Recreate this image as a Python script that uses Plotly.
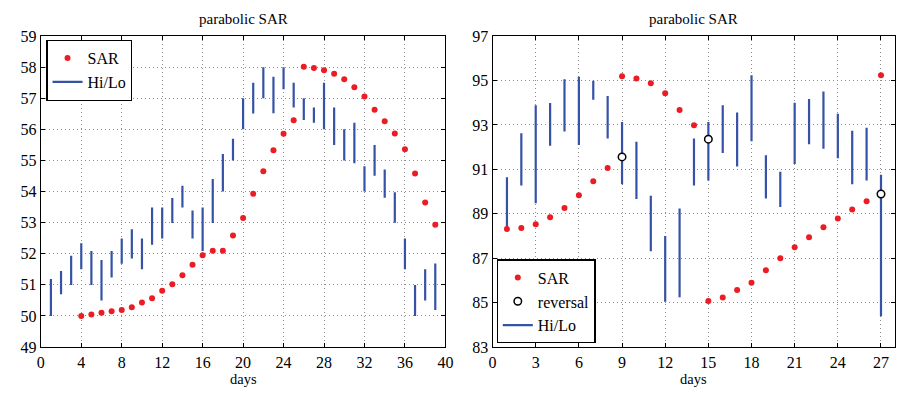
import plotly.graph_objects as go

# ---------------- data ----------------
left_days = list(range(1, 40))
left_hi = [51.19, 51.45, 51.94, 52.34, 52.09, 51.80, 52.09, 52.49, 52.79, 52.49,
           53.49, 53.49, 53.79, 54.19, 53.39, 53.49, 54.40, 55.21, 55.70, 57.00,
           57.50, 58.00, 57.69, 58.00, 57.50, 57.00, 56.70, 57.50, 56.70, 56.00,
           56.21, 54.81, 55.50, 54.71, 53.98, 52.49, 51.00, 51.50, 51.69]
left_lo = [50.00, 50.70, 51.00, 51.50, 51.00, 50.50, 51.24, 51.68, 51.85, 51.50,
           52.29, 52.49, 52.99, 53.49, 52.49, 52.09, 52.99, 54.00, 55.00, 56.00,
           56.51, 57.00, 56.52, 57.29, 56.70, 56.30, 56.21, 56.00, 55.50, 55.00,
           54.91, 54.00, 54.51, 53.80, 53.00, 51.50, 50.00, 50.50, 50.19]
left_sar_days = list(range(4, 40))
left_sar = [50.00, 50.05, 50.10, 50.15, 50.19, 50.28, 50.43, 50.57, 50.81, 51.02,
            51.31, 51.65, 51.95, 52.10, 52.10, 52.59, 53.15, 53.93, 54.65, 55.33,
            55.86, 56.29, 58.01, 57.97, 57.90, 57.79, 57.61, 57.35, 57.06, 56.63,
            56.26, 55.87, 55.36, 54.58, 53.65, 52.93]

right_days = list(range(1, 28))
right_hi = [90.64, 92.63, 93.89, 93.99, 95.06, 95.17, 94.99, 94.30, 93.13, 92.24,
            89.81, 88.00, 89.24, 92.39, 93.13, 93.89, 93.56, 95.24, 91.63, 90.89,
            94.00, 94.17, 94.50, 93.50, 92.74, 92.87, 90.76]
right_lo = [88.31, 90.27, 89.47, 92.06, 92.70, 92.10, 94.13, 92.39, 90.33, 89.67,
            87.31, 85.04, 85.24, 90.27, 90.50, 91.74, 91.13, 92.27, 89.69, 89.30,
            91.24, 92.13, 91.93, 91.50, 90.33, 90.50, 84.39]
right_sar = [88.31, 88.36, 88.53, 88.84, 89.26, 89.83, 90.46, 91.06, 95.19, 95.09,
             94.87, 94.43, 93.67, 92.99, 85.07, 85.23, 85.57, 85.90, 86.46, 87.00,
             87.49, 87.94, 88.39, 88.79, 89.19, 89.56, 95.24]
rev_days = [9, 15, 27]
rev_vals = [91.56, 92.36, 89.89]

titles = ["parabolic SAR", "parabolic SAR"]
xlabel = "days"

# ---------------- style ----------------
FONT = "Liberation Serif"
RED = "#ec1c24"
BLUE = "#3552a6"


def bar_xy(days, hi, lo):
    xs, ys = [], []
    for d, h, l in zip(days, hi, lo):
        xs += [d, d, None]
        ys += [l, h, None]
    return xs, ys


fig = go.Figure()

lx, ly = bar_xy(left_days, left_hi, left_lo)
fig.add_trace(go.Scatter(x=left_sar_days, y=left_sar, mode="markers", name="SAR",
                         marker=dict(color=RED, size=6), xaxis="x", yaxis="y",
                         legend="legend"))
fig.add_trace(go.Scatter(x=lx, y=ly, mode="lines", name="Hi/Lo",
                         line=dict(color=BLUE, width=2.2), xaxis="x", yaxis="y",
                         legend="legend", connectgaps=False))

rx, ry = bar_xy(right_days, right_hi, right_lo)
fig.add_trace(go.Scatter(x=rx, y=ry, mode="lines", name="Hi/Lo",
                         line=dict(color=BLUE, width=2.2), xaxis="x2", yaxis="y2",
                         legend="legend2", connectgaps=False, legendrank=3))
fig.add_trace(go.Scatter(x=right_days, y=right_sar, mode="markers", name="SAR",
                         marker=dict(color=RED, size=6), xaxis="x2", yaxis="y2",
                         legend="legend2", legendrank=1))
fig.add_trace(go.Scatter(x=rev_days, y=rev_vals, mode="markers", name="reversal",
                         marker=dict(color="white", size=7.5,
                                     line=dict(color="black", width=1.5)),
                         xaxis="x2", yaxis="y2", legend="legend2", legendrank=2))

W, H = 909, 396
ytop, ybot = 29.3, 354.3
ydom = [1 - ybot / H, 1 - ytop / H]
xdom1 = [37.3 / W, 447.3 / W]
xdom2 = [495.1 / W, 903.3 / W]

axis_common = dict(showline=True, linecolor="black", linewidth=1.3, mirror="ticks",
                   ticks="inside", ticklen=4, tickcolor="black",
                   showgrid=True, gridcolor="#8c8c8c", griddash="1px,3px", gridwidth=1,
                   zeroline=False, tickfont=dict(family=FONT, size=16, color="black"))

fig.update_layout(
    width=W, height=H, margin=dict(l=0, r=0, t=0, b=0),
    paper_bgcolor="white", plot_bgcolor="white",
    font=dict(family=FONT, color="black"),
    xaxis=dict(domain=xdom1, range=[0, 40], tick0=0, dtick=4, anchor="y",
               ticklabelstandoff=1, **axis_common),
    yaxis=dict(domain=ydom, range=[49, 59], tick0=49, dtick=1, anchor="x", **axis_common),
    xaxis2=dict(domain=xdom2, range=[0, 28], tick0=0, dtick=3, anchor="y2",
                ticklabelstandoff=1, **axis_common),
    yaxis2=dict(domain=ydom, range=[83, 97], tick0=83, dtick=2, anchor="x2", **axis_common),
    legend=dict(x=xdom1[0] + 5.5 / W, y=ydom[1] - 4 / H, xanchor="left", yanchor="top",
                bordercolor="black", borderwidth=1.3, bgcolor="white",
                font=dict(family=FONT, size=16), tracegroupgap=0,
                itemwidth=30),
    legend2=dict(x=xdom2[0] + 4 / W, y=ydom[0] + 4 / H, xanchor="left", yanchor="bottom",
                 bordercolor="black", borderwidth=1.3, bgcolor="white",
                 font=dict(family=FONT, size=16), tracegroupgap=0,
                 itemwidth=30, traceorder="normal"),
    showlegend=True,
)

annotations = []
for dom, t in zip([xdom1, xdom2], titles):
    cx = (dom[0] + dom[1]) / 2
    annotations.append(dict(text=t, x=cx, y=1 - 12 / H, xref="paper", yref="paper",
                            showarrow=False, xanchor="center", yanchor="middle",
                            font=dict(family=FONT, size=15, color="black")))
    annotations.append(dict(text=xlabel, x=cx, y=1 - 388 / H, xref="paper", yref="paper",
                            showarrow=False, xanchor="center", yanchor="middle",
                            font=dict(family=FONT, size=14.5, color="black")))
fig.update_layout(annotations=annotations)

fig.write_html("out.html")
